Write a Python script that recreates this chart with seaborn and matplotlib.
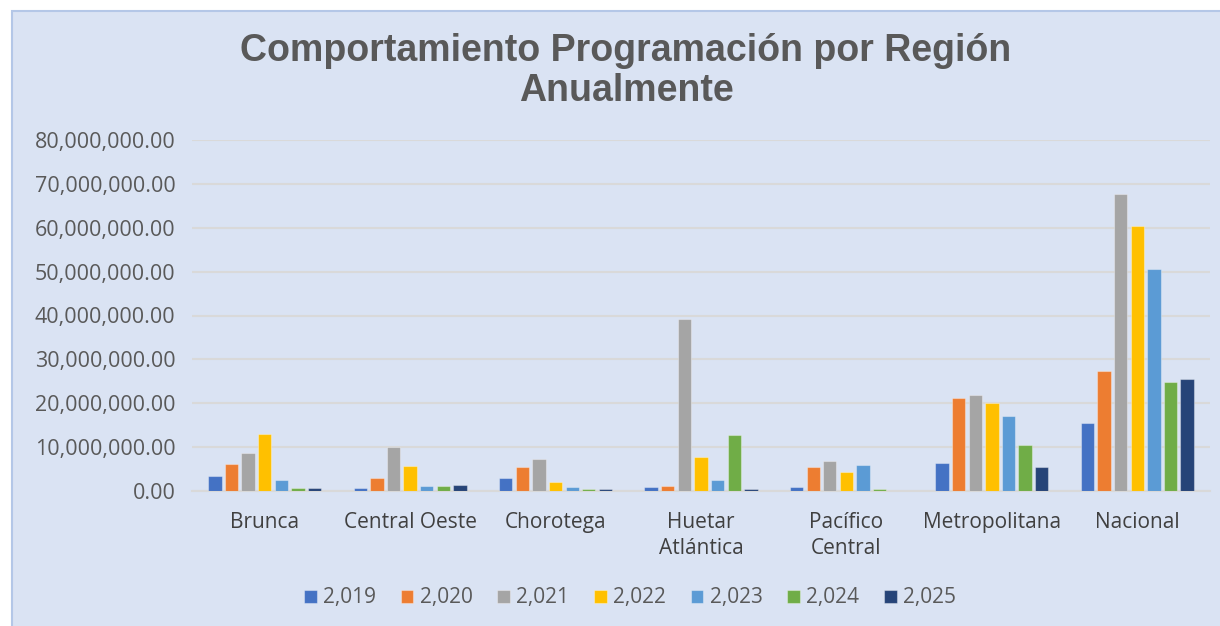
import matplotlib
matplotlib.use("Agg")
import matplotlib.pyplot as plt
import matplotlib.patches as mpatches
from matplotlib.ticker import FuncFormatter
import seaborn as sns
import pandas as pd

regions = ["Brunca", "Central Oeste", "Chorotega", "Huetar\nAtlántica",
           "Pacífico\nCentral", "Metropolitana", "Nacional"]
years = ["2,019", "2,020", "2,021", "2,022", "2,023", "2,024", "2,025"]

v2019 = [3.45e6, 0.7e6, 2.9e6, 1.0e6, 1.0e6, 6.45e6, 15.4e6]
v2020 = [6.15e6, 2.9e6, 5.45e6, 1.25e6, 5.4e6, 21.2e6, 27.3e6]
v2021 = [8.7e6, 10.05e6, 7.3e6, 39.2e6, 6.8e6, 21.8e6, 67.7e6]
v2022 = [13.05e6, 5.7e6, 2.15e6, 7.8e6, 4.3e6, 20.0e6, 60.4e6]
v2023 = [2.6e6, 1.05e6, 1.0e6, 2.45e6, 5.9e6, 17.1e6, 50.5e6]
v2024 = [0.7e6, 1.05e6, 0.45e6, 12.75e6, 0.4e6, 10.5e6, 24.9e6]
v2025 = [0.75e6, 1.3e6, 0.45e6, 0.45e6, 0.0, 5.4e6, 25.5e6]

series = [v2019, v2020, v2021, v2022, v2023, v2024, v2025]
colors = ["#4472C4", "#ED7D31", "#A5A5A5", "#FFC000", "#5B9BD5", "#70AD47", "#264478"]

rows = []
for y, vals in zip(years, series):
    for r, v in zip(regions, vals):
        rows.append({"Región": r, "Año": y, "Valor": v})
df = pd.DataFrame(rows)

sns.set_theme(style="white")
plt.rcParams["font.family"] = ["Open Sans", "DejaVu Sans"]

BG = "#DAE3F3"
fig = plt.figure(figsize=(12.2, 6.26), dpi=100)
fig.patch.set_facecolor("white")
bgrect = mpatches.Rectangle((12 / 1220, -0.01), 1.0, 1 - 11 / 626 + 0.01,
                            transform=fig.transFigure, facecolor=BG,
                            edgecolor="#B4C7E7", linewidth=1.5, zorder=-10)
fig.patches.append(bgrect)

ax = fig.add_axes([192 / 1220, 1 - 491 / 626, (1210 - 192) / 1220, (491 - 140) / 626])
ax.set_zorder(1)
ax.patch.set_alpha(0)

sns.barplot(data=df, x="Región", y="Valor", hue="Año", order=regions,
            hue_order=years, palette=colors, width=0.8, gap=0.2,
            ax=ax, legend=True, zorder=3, saturation=1,
            edgecolor=(1, 1, 1, 0.35), linewidth=0.8)

ax.set_ylim(0, 80e6)
ax.set_xlim(-0.5, len(regions) - 0.5)
ax.set_yticks([i * 10e6 for i in range(9)])
ax.yaxis.set_major_formatter(FuncFormatter(lambda v, p: f"{v:,.2f}"))
ax.grid(axis="y", color="#D9D9D9", linewidth=1.5, zorder=0)
ax.set_axisbelow(True)
for s in ["top", "right", "left"]:
    ax.spines[s].set_visible(False)
ax.spines["bottom"].set_color("#D9D9D9")
ax.spines["bottom"].set_linewidth(1.5)
ax.set_xlabel("")
ax.set_ylabel("")
ax.tick_params(axis="y", length=0, pad=12, labelsize=15.5, labelcolor="#595959")
ax.tick_params(axis="x", length=0, pad=15, labelsize=15, labelcolor="#404040")
for lbl in ax.get_xticklabels():
    lbl.set_linespacing(1.35)

leg = ax.legend(loc="center", bbox_to_anchor=(630 / 1220, 1 - 598 / 626),
                bbox_transform=fig.transFigure, ncol=7, frameon=False,
                fontsize=15, handlelength=0.6, handleheight=0.6,
                handletextpad=0.3, columnspacing=1.2)
for t in leg.get_texts():
    t.set_color("#595959")

fig.text(626 / 1220, 1 - 71 / 626, "Comportamiento Programación por Región\nAnualmente",
         ha="center", va="center", fontsize=27, fontweight="bold",
         color="#595959", family="Liberation Sans", linespacing=1.15)

fig.savefig("out.png", dpi=100, facecolor=fig.get_facecolor())
